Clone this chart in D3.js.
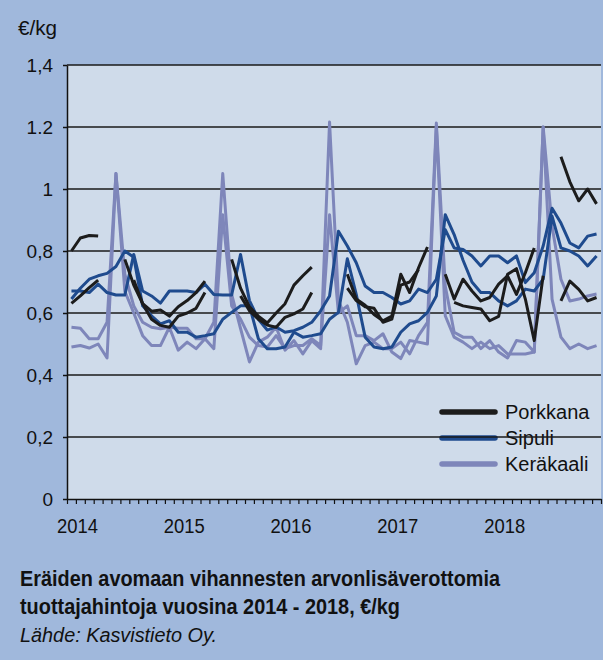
<!DOCTYPE html>
<html>
<head>
<meta charset="utf-8">
<script src="https://d3js.org/d3.v7.min.js"></script>
<style>
  body { margin: 0; background: #a0b8dc; }
  svg { display: block; font-family: 'Liberation Sans', Arial, sans-serif; }
</style>
</head>
<body>
<svg width="603" height="660"></svg>
<script>
// months Jan 2014 .. Dec 2018 (index 0..59)
const months = d3.range(60);
const years = ['2014', '2015', '2016', '2017', '2018'];
const yTicks = [0, 0.2, 0.4, 0.6, 0.8, 1.0, 1.2, 1.4];
const yTickLabels = ['0', '0,2', '0,4', '0,6', '0,8', '1', '1.2', '1,4'];
const seriesNames = ['Porkkana', 'Sipuli', 'Keräkaali'];

const n = null;
const porkkana1 = [0.80, 0.842, 0.85, 0.848, n, n,
  0.773, 0.69, 0.63, 0.606, 0.61, 0.59, 0.62, 0.64, 0.666, 0.703, n, n,
  0.773, 0.68, 0.62, 0.59, 0.568, 0.6, 0.63, 0.69, 0.72, 0.748, n, n, n,
  0.725, 0.645, 0.625, 0.595, 0.575, 0.59, 0.725, 0.666, 0.746, 0.813, n,
  0.725, 0.645, 0.709, 0.671, 0.639, 0.65, 0.693, 0.72, 0.66, 0.73, 0.81, n, n,
  1.104, 1.023, 0.962, 1.0, 0.952];
const porkkana2 = [0.631, 0.655, 0.682, 0.706, n, n, n,
  0.706, 0.63, 0.58, 0.56, 0.554, 0.59, 0.6, 0.615, 0.666, n, n, n,
  0.655, 0.607, 0.58, 0.561, 0.554, 0.586, 0.597, 0.613, 0.666, n, n, n,
  0.68, 0.64, 0.62, 0.615, 0.57, 0.58, 0.69, 0.7, 0.74, n, n, n,
  0.634, 0.623, 0.618, 0.613, 0.575, 0.589, 0.725, 0.743, 0.645, 0.511, 0.72, n,
  0.639, 0.703, 0.676, 0.639, 0.65];
const sipuli1 = [0.645, 0.68, 0.709, 0.72, 0.728, 0.75, 0.8, 0.78, 0.623, 0.591,
  0.565, 0.575, 0.538, 0.538, 0.522, 0.527, 0.533, 0.58, 0.602, 0.623,
  0.623, 0.517, 0.485, 0.485, 0.49, 0.538, 0.522, 0.527, 0.533, 0.58,
  0.602, 0.775, 0.66, 0.522, 0.49, 0.485, 0.49, 0.538, 0.565, 0.575,
  0.602, 0.655, 0.917, 0.853, 0.77, 0.7, 0.666, 0.666, 0.639, 0.623,
  0.639, 0.677, 0.671, 0.709, 0.912, 0.81, 0.8, 0.784, 0.752, 0.784];
const sipuli2 = [0.671, 0.671, 0.666, 0.693, 0.666, 0.658, 0.658, 0.789, 0.671, 0.655,
  0.632, 0.671, 0.671, 0.671, 0.666, 0.693, 0.66, 0.658, 0.658, 0.789,
  0.64, 0.58, 0.545, 0.555, 0.538, 0.543, 0.554, 0.57, 0.607, 0.655,
  0.864, 0.816, 0.762, 0.687, 0.666, 0.666, 0.65, 0.629, 0.639, 0.677,
  0.666, 0.709, 0.869, 0.81, 0.805, 0.784, 0.752, 0.784, 0.784, 0.762,
  0.784, 0.698, 0.73, 0.816, 0.938, 0.89, 0.826, 0.81, 0.848, 0.855];
const kerakaali1 = [0.554, 0.551, 0.517, 0.517, 0.57, 1.05, 0.725, 0.623, 0.57, 0.554,
  0.549, 0.554, 0.551, 0.551, 0.517, 0.517, 0.57, 1.05, 0.66, 0.55,
  0.442, 0.506, 0.522, 0.554, 0.48, 0.511, 0.468, 0.511, 0.485, 1.216,
  0.64, 0.57, 0.436, 0.495, 0.506, 0.485, 0.485, 0.506, 0.468, 0.527,
  0.57, 1.213, 0.687, 0.538, 0.522, 0.522, 0.485, 0.511, 0.474, 0.455,
  0.511, 0.506, 0.474, 1.2, 0.88, 0.709, 0.639, 0.645, 0.655, 0.661];
const kerakaali2 = [0.49, 0.495, 0.487, 0.5, 0.455, 1.05, 0.67, 0.6, 0.527, 0.495,
  0.495, 0.554, 0.48, 0.506, 0.485, 0.517, 0.485, 0.917, 0.623, 0.58,
  0.522, 0.495, 0.49, 0.527, 0.485, 0.495, 0.495, 0.517, 0.495, 0.917,
  0.6, 0.623, 0.527, 0.527, 0.511, 0.533, 0.474, 0.453, 0.511, 0.506,
  0.5, 1.2, 0.591, 0.522, 0.506, 0.485, 0.506, 0.485, 0.495, 0.468,
  0.468, 0.468, 0.474, 1.2, 0.645, 0.522, 0.485, 0.5, 0.485, 0.495];

const svg = d3.select('svg');
const width = +svg.attr('width');
const height = +svg.attr('height');

const plotLeft = 67, plotRight = 601, plotTop = 65, plotBottom = 499;

const colorScale = d3.scaleOrdinal()
  .domain(seriesNames)
  .range(['#1c1c1c', '#1f4b8e', '#7e86ba']);

const x = d3.scaleBand().domain(months).range([plotLeft, plotRight]);
const xEdge = d3.scaleLinear().domain([0, 60]).range([plotLeft, plotRight]);
const y = d3.scaleLinear().domain([0, 1.4]).range([plotBottom, plotTop]);

// background
svg.append('rect').attr('width', width).attr('height', height).attr('fill', '#a0b8dc');
svg.append('rect')
  .attr('x', plotLeft).attr('y', plotTop)
  .attr('width', plotRight - plotLeft).attr('height', plotBottom - plotTop)
  .attr('fill', '#cfdbea');

// legend (sits under the grid lines)
const legend = svg.append('g');
seriesNames.forEach((name, i) => {
  const ly = 412 + i * 26;
  legend.append('line')
    .attr('x1', 442).attr('x2', 495).attr('y1', ly).attr('y2', ly)
    .attr('stroke', colorScale(name)).attr('stroke-width', 5.5)
    .attr('stroke-linecap', 'round');
  legend.append('text')
    .attr('x', 505).attr('y', ly + 7)
    .attr('font-size', 20).attr('fill', '#111')
    .text(name);
});

// grid
svg.append('g').selectAll('line').data(yTicks.slice(1)).enter().append('line')
  .attr('x1', plotLeft).attr('x2', plotRight)
  .attr('y1', d => y(d)).attr('y2', d => y(d))
  .attr('stroke', '#1a1a1a').attr('stroke-width', 1.5);

// lines
const line = d3.line()
  .defined(d => d != null)
  .x((d, i) => x(i) + x.bandwidth() / 2)
  .y(d => y(d));

const lines = [
  { name: 'Keräkaali', values: kerakaali1 },
  { name: 'Keräkaali', values: kerakaali2 },
  { name: 'Sipuli', values: sipuli1 },
  { name: 'Sipuli', values: sipuli2 },
  { name: 'Porkkana', values: porkkana1 },
  { name: 'Porkkana', values: porkkana2 }
];

svg.append('g').selectAll('path').data(lines).enter().append('path')
  .attr('d', d => line(d.values))
  .attr('fill', 'none')
  .attr('stroke', d => colorScale(d.name))
  .attr('stroke-width', 3)
  .attr('stroke-linejoin', 'round');

// y axis
const yAxis = svg.append('g')
  .attr('transform', `translate(${plotLeft},0)`)
  .call(d3.axisLeft(y).tickValues(yTicks)
    .tickFormat((d, i) => yTickLabels[i])
    .tickSize(4).tickSizeOuter(0).tickPadding(10));
yAxis.selectAll('text').attr('font-size', 19).attr('fill', '#111')
  .attr('font-family', "'Liberation Sans', Arial, sans-serif");
yAxis.selectAll('line').attr('stroke', '#111').attr('stroke-width', 1.5);
yAxis.select('.domain').attr('stroke', '#111').attr('stroke-width', 1.5);

// x axis with monthly ticks
const xAxis = svg.append('g')
  .attr('transform', `translate(0,${plotBottom})`)
  .call(d3.axisBottom(xEdge).tickValues(d3.range(61))
    .tickFormat('').tickSize(5).tickSizeOuter(0));
xAxis.selectAll('line').attr('stroke', '#111').attr('stroke-width', 1.2);
xAxis.select('.domain').attr('stroke', '#111').attr('stroke-width', 1.5);

svg.append('g').selectAll('text').data(years).enter().append('text')
  .attr('x', (d, i) => x(i * 12) + x.bandwidth() / 2 + 6)
  .attr('y', 533)
  .attr('text-anchor', 'middle')
  .attr('font-size', 20).attr('fill', '#111')
  .attr('textLength', 41).attr('lengthAdjust', 'spacingAndGlyphs')
  .text(d => d);

// unit
svg.append('text').attr('x', 18).attr('y', 35)
  .attr('font-size', 20).attr('fill', '#111')
  .attr('textLength', 39).attr('lengthAdjust', 'spacingAndGlyphs')
  .text('€/kg');

// caption
svg.append('text').attr('x', 20).attr('y', 586)
  .attr('font-size', 21.5).attr('font-weight', 'bold').attr('fill', '#111')
  .attr('textLength', 480).attr('lengthAdjust', 'spacingAndGlyphs')
  .text('Eräiden avomaan vihannesten arvonlisäverottomia');
svg.append('text').attr('x', 20).attr('y', 614)
  .attr('font-size', 21.5).attr('font-weight', 'bold').attr('fill', '#111')
  .attr('textLength', 380).attr('lengthAdjust', 'spacingAndGlyphs')
  .text('tuottajahintoja vuosina 2014 - 2018, €/kg');
svg.append('text').attr('x', 20).attr('y', 642)
  .attr('font-size', 20.5).attr('font-style', 'italic').attr('fill', '#111')
  .attr('textLength', 197).attr('lengthAdjust', 'spacingAndGlyphs')
  .text('Lähde: Kasvistieto Oy.');
</script>
</body>
</html>
